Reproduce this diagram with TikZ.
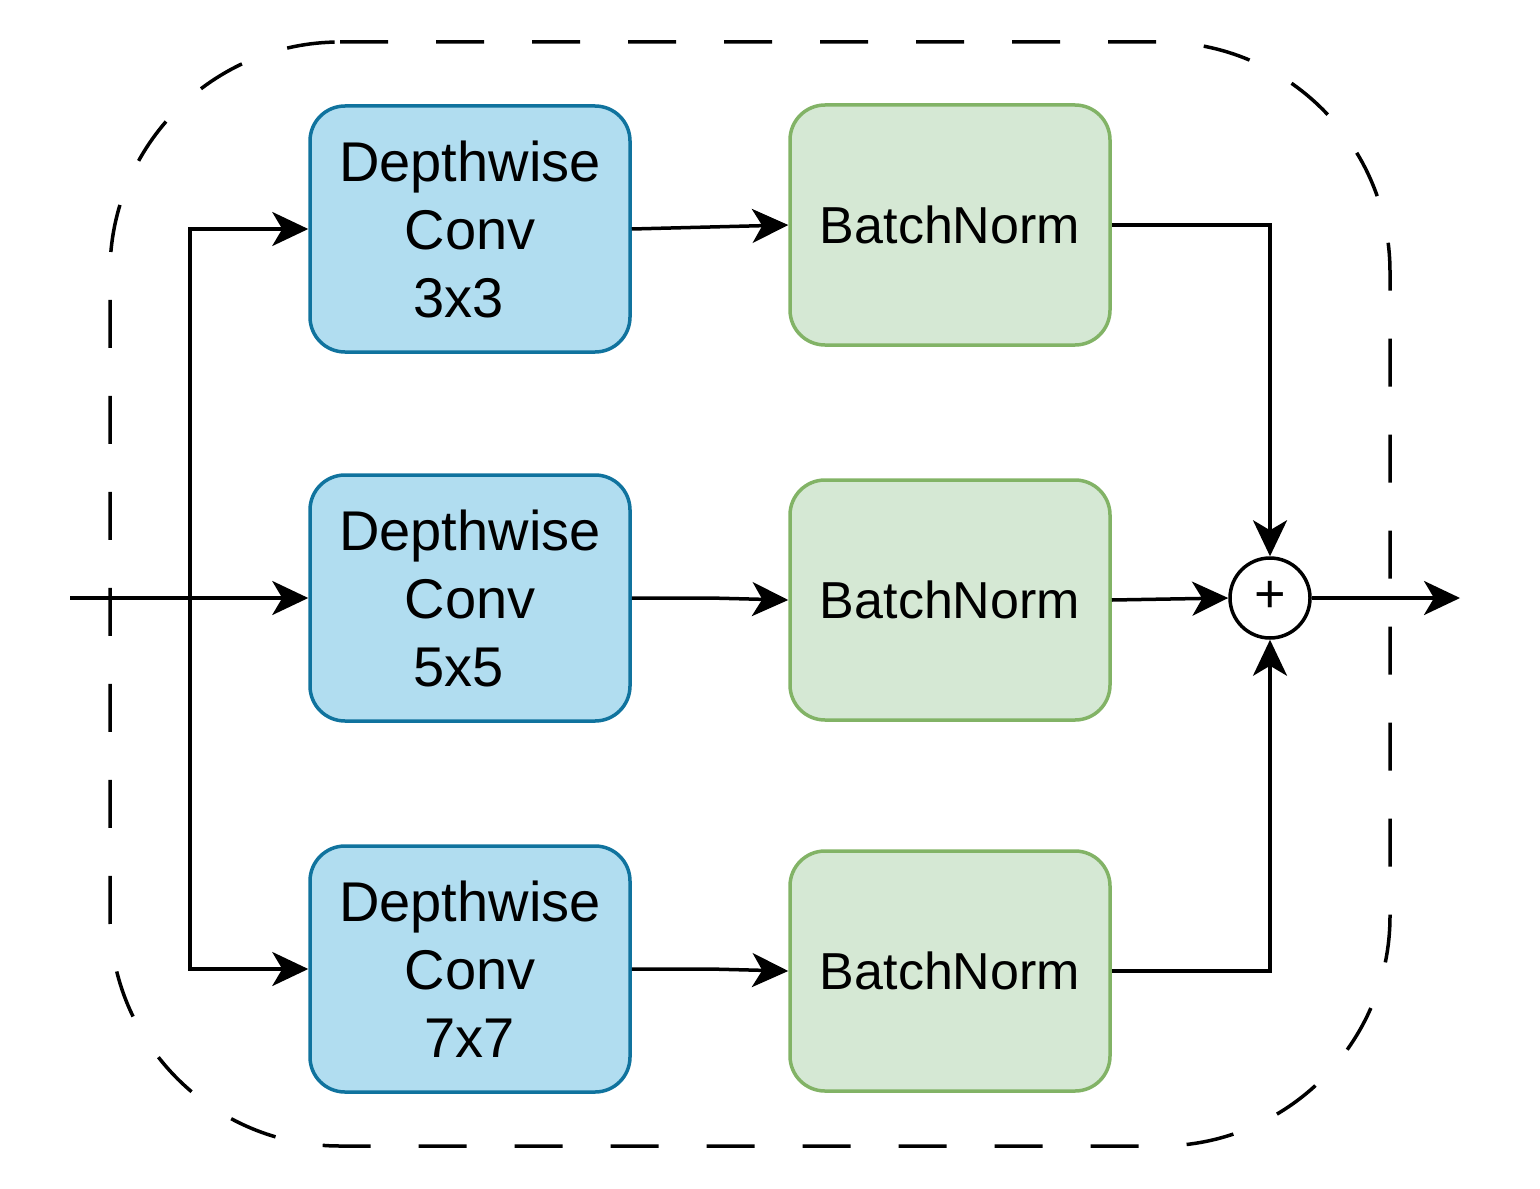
\documentclass[tikz,border=0pt]{standalone}
\usepackage{fontspec}
\setmainfont{Liberation Sans}
\usetikzlibrary{arrows.meta}
\definecolor{bfill}{HTML}{B1DDF0}
\definecolor{bdraw}{HTML}{10739E}
\definecolor{gfill}{HTML}{D5E8D4}
\definecolor{gdraw}{HTML}{82B366}
\begin{document}
\begin{tikzpicture}[x=0.5pt,y=-0.5pt,
  convbox/.style={draw=bdraw, fill=bfill, line width=1.75pt, rounded corners=17.5pt,
    minimum width=160pt, minimum height=123pt, inner sep=0pt, align=center,
    font=\fontsize{28pt}{34pt}\selectfont},
  bnbox/.style={draw=gdraw, fill=gfill, line width=1.75pt, rounded corners=17.5pt,
    minimum width=160pt, minimum height=120pt, inner sep=0pt, align=center,
    font=\fontsize{26pt}{34pt}\selectfont},
  arr/.style={line width=1.75pt, -{Stealth[length=18pt, width=17pt, inset=5pt]}},
  outline/.style={line width=1.75pt, dash pattern=on 24pt off 24pt, rounded corners=115pt}
]
\useasboundingbox (0,0) rectangle (1540,1188);
% dashed outer frame
\draw[outline] (340,42) -- (1390,42) -- (1390,1146) -- (110,1146) -- (110,42) -- (340,42);
% boxes
\node[convbox] (b1) at (470,229) {Depthwise\\Conv\\3x3\hspace*{11pt}};
\node[convbox] (b2) at (470,598) {Depthwise\\Conv\\5x5\hspace*{11pt}};
\node[convbox] (b3) at (470,969) {Depthwise\\Conv\\7x7};
\node[bnbox] (g1) at (950,225) {BatchNorm};
\node[bnbox] (g2) at (950,600) {BatchNorm};
\node[bnbox] (g3) at (950,971) {BatchNorm};
\node[draw, circle, line width=1.75pt, fill=white, minimum size=40pt, inner sep=0pt,
  font=\fontsize{27pt}{27pt}\selectfont] (plus) at (1270,598) {\raisebox{1.5pt}{+}};
\coordinate (in) at (70,598);
\coordinate (split) at (190,598);
\coordinate (out) at (1460,598);
% connectors
\draw[arr] (in) -- (b2.west);
\draw[arr] (split) |- (b1.west);
\draw[arr] (split) |- (b3.west);
\draw[arr] (b1.east) -- (g1.west);
\draw[arr] (b2.east) -- (710,598) -- (g2.west);
\draw[arr] (b3.east) -- (710,969) -- (g3.west);
\draw[arr] (g1.east) -| (plus.north);
\draw[arr] (g2.east) -- (plus.west);
\draw[arr] (g3.east) -| (plus.south);
\draw[arr] (plus.east) -- (out);
\end{tikzpicture}
\end{document}
